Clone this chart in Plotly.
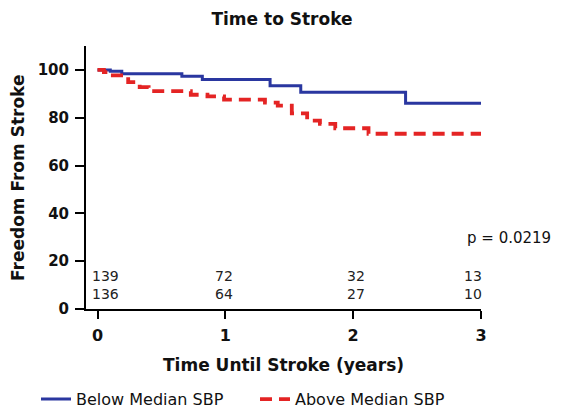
import plotly.graph_objects as go

# Kaplan-Meier step data (time in years, % freedom from stroke)
below_t = [0, 0.10, 0.19, 0.66, 0.82, 1.35, 1.59, 2.41, 3.0]
below_v = [100, 99.4, 98.4, 97.4, 96.0, 93.4, 90.7, 86.1, 86.1]

above_t = [0, 0.05, 0.12, 0.20, 0.24, 0.28, 0.33, 0.40, 0.73, 0.86, 0.99,
           1.31, 1.41, 1.52, 1.64, 1.74, 1.86, 2.12, 3.0]
above_v = [100, 99.1, 97.7, 97.0, 94.9, 93.9, 92.8, 91.1, 89.6, 88.9, 87.6,
           86.3, 85.1, 81.8, 78.8, 77.4, 75.6, 73.3, 73.3]

risk_below = [139, 72, 32, 13]
risk_above = [136, 64, 27, 10]
risk_x = [0.06, 0.99, 2.02, 2.94]

x_ticks = [0, 1, 2, 3]
y_ticks = [0, 20, 40, 60, 80, 100]

BLUE = "rgb(42,55,160)"
RED = "rgb(228,36,36)"
FONT = "DejaVu Sans"
INK = "#111"

OFF = 8  # page body margin offset
# plot area in target-picture pixels
L, R, T, B = 86, 481, 45.5, 309.5
W, H = R - L, B - T


def px(x):
    return (x - L) / W


def py(y):
    return (B - y) / H


fig = go.Figure()
fig.add_trace(go.Scatter(x=below_t, y=below_v, mode="lines", line_shape="hv",
                         line=dict(color=BLUE, width=3), name="Below Median SBP"))
fig.add_trace(go.Scatter(x=above_t, y=above_v, mode="lines", line_shape="hv",
                         line=dict(color=RED, width=3.8, dash="12px,7px"), name="Above Median SBP"))

annotations = []
for xr, a, b in zip(risk_x, risk_below, risk_above):
    annotations.append(dict(x=xr, y=13.7, xref="x", yref="y", text=str(a), showarrow=False,
                            font=dict(family=FONT, size=14, color="#222")))
    annotations.append(dict(x=xr, y=6.1, xref="x", yref="y", text=str(b), showarrow=False,
                            font=dict(family=FONT, size=14, color="#222")))

annotations.append(dict(x=px(509), y=py(238), xref="paper", yref="paper", text="p = 0.0219",
                        showarrow=False, xanchor="center", yanchor="middle",
                        font=dict(family=FONT, size=15, color=INK)))
annotations.append(dict(x=px(283), y=py(366), xref="paper", yref="paper",
                        text="<b>Time Until Stroke (years)</b>", showarrow=False,
                        xanchor="center", yanchor="middle",
                        font=dict(family=FONT, size=17, color=INK)))
annotations.append(dict(x=px(18), y=py(178), xref="paper", yref="paper",
                        text="<b>Freedom From Stroke</b>", showarrow=False, textangle=-90,
                        xanchor="center", yanchor="middle",
                        font=dict(family=FONT, size=17, color=INK)))

fig.update_layout(
    width=582, height=418,
    margin=dict(l=L - OFF, r=582 - R + OFF, t=T - OFF, b=418 - B + OFF, autoexpand=False),
    paper_bgcolor="white", plot_bgcolor="white",
    title=dict(text="<b>Time to Stroke</b>", x=(282 - OFF) / 582, xanchor="center",
               y=1 - (19 - OFF) / 418, yanchor="middle",
               font=dict(family=FONT, size=17, color=INK)),
    xaxis=dict(range=[-0.09, 3.0], tickvals=x_ticks, showline=True, linecolor="black", linewidth=2,
               ticks="outside", ticklen=8, tickwidth=2, tickcolor="black", showgrid=False,
               zeroline=False, automargin=False, ticklabelstandoff=3,
               tickfont=dict(family=FONT, size=16, color=INK, weight="bold")),
    yaxis=dict(range=[0, 110], tickvals=y_ticks, showline=True, linecolor="black", linewidth=2,
               ticks="outside", ticklen=9, tickwidth=2, tickcolor="black", showgrid=False,
               zeroline=False, automargin=False, ticklabelstandoff=3,
               tickfont=dict(family=FONT, size=15, color=INK, weight="bold")),
    legend=dict(orientation="h", x=px(36), xanchor="left", y=py(400), yanchor="middle",
                font=dict(family=FONT, size=16, color=INK), itemwidth=30,
                entrywidth=174, entrywidthmode="pixels"),
    showlegend=True,
    annotations=annotations,
)
fig.write_html("out.html")
